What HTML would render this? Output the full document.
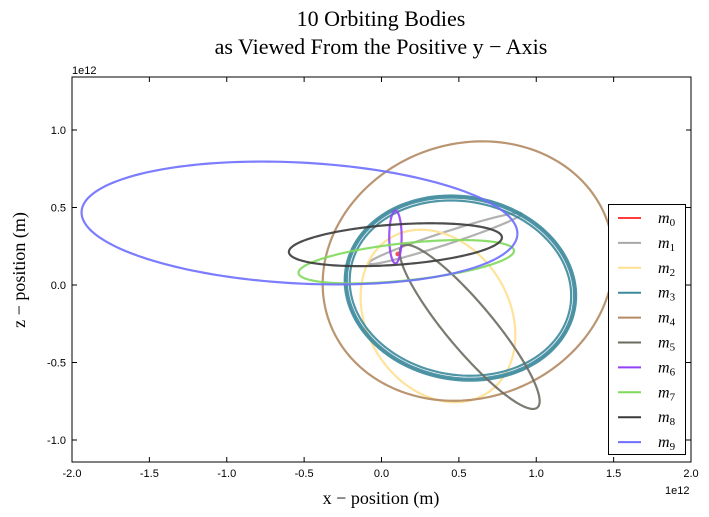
<!DOCTYPE html>
<html><head><meta charset="utf-8">
<style>
body{margin:0;background:#fff;}
svg{display:block;font-family:"Liberation Sans",sans-serif;}
.serif{font-family:"Liberation Serif",serif;}
</style></head>
<body>
<svg id="chart" width="709" height="517" viewBox="0 0 709 517" xmlns="http://www.w3.org/2000/svg">
<rect width="709" height="517" fill="#fff"/>
<text class="serif" x="381" y="26" font-size="22" text-anchor="middle">10 Orbiting Bodies</text>
<text class="serif" x="381" y="54" font-size="22" text-anchor="middle">as Viewed From the Positive y − Axis</text>
<g id="plot"></g>
<text class="serif" x="381" y="504" font-size="18" text-anchor="middle">x − position (m)</text>
<text class="serif" transform="translate(25,270) rotate(-90)" font-size="18" text-anchor="middle">z − position (m)</text>
<text x="665" y="494" font-size="11">1e12</text>
<text x="72" y="74" font-size="11">1e12</text>
</svg>
<script>
const names=["m0","m1","m2","m3","m4","m5","m6","m7","m8","m9"];
const colors=["#ff3b3b","#a8a8a8","#ffe08f","#3d8a9c","#b38a63","#6b6b62","#9342f5","#7fd95c","#3a3a3a","#6e6eff"];
const centerX=[0.105,0.41,0.365,0.51,0.56,0.57,0.09,0.16,0.09,-0.53];
const centerZ=[0.20,0.30,-0.20,-0.02,0.09,-0.27,0.31,0.15,0.26,0.40];
const semiA=[0.008,0.52,0.59,0.74,0.955,0.68,0.17,0.70,0.69,1.41];
const semiB=[0.008,0.04,0.46,0.58,0.82,0.15,0.04,0.12,0.13,0.39];
const angleDeg=[0,18,122,-10,20,-50,90,6,4,-3];
const xTicks=[-2.0,-1.5,-1.0,-0.5,0.0,0.5,1.0,1.5,2.0];
const zTicks=[-1.0,-0.5,0.0,0.5,1.0];
const L=72,R=691,T=77,B=462;
const xMin=-2,xMax=2,zMin=-1.142,zMax=1.342;
function X(v){return L+(v-xMin)/(xMax-xMin)*(R-L);}
function Y(v){return B-(v-zMin)/(zMax-zMin)*(B-T);}
const NS="http://www.w3.org/2000/svg";
const plot=document.getElementById('plot');
function mk(tag,attrs,parent){const e=document.createElementNS(NS,tag);for(const k in attrs)e.setAttribute(k,attrs[k]);(parent||plot).appendChild(e);return e;}
const clip=mk('clipPath',{id:'pc'});mk('rect',{x:L,y:T,width:R-L,height:B-T},clip);
const g=mk('g',{'clip-path':'url(#pc)'});
function ellipsePath(cx,cz,a,b,ang,da){
  const th=ang*Math.PI/180;let d='';
  for(let i=0;i<=200;i++){const t=i/200*2*Math.PI;
    const ex=(a+da)*Math.cos(t),ez=(b+da)*Math.sin(t);
    const x=cx+ex*Math.cos(th)-ez*Math.sin(th),z=cz+ex*Math.sin(th)+ez*Math.cos(th);
    d+=(i?'L':'M')+X(x).toFixed(2)+','+Y(z).toFixed(2);}
  return d;
}
for(let i=0;i<names.length;i++){
  const offs=(i===3)?[-0.02,0,0.012]:[0];
  offs.forEach(o=>{
    const p=mk('path',{d:ellipsePath(centerX[i],centerZ[i],semiA[i],semiB[i],angleDeg[i],o),fill:'none',stroke:colors[i],'stroke-width':(i===3&&o===0)?2.6:2.2,'stroke-opacity':0.9},g);
    
    
  });
}
const frame=mk('rect',{x:L,y:T,width:R-L,height:B-T,fill:'none',stroke:'#000','stroke-width':1});


xTicks.forEach(v=>{const x=X(v);
  mk('line',{x1:x,y1:B,x2:x,y2:B-5,stroke:'#000'});mk('line',{x1:x,y1:T,x2:x,y2:T+5,stroke:'#000'});
  const t=mk('text',{x:x,y:B+15,'font-size':11,'text-anchor':'middle'});t.textContent=v.toFixed(1);
  
  
});
zTicks.forEach(v=>{const y=Y(v);
  mk('line',{x1:L,y1:y,x2:L+5,y2:y,stroke:'#000'});mk('line',{x1:R,y1:y,x2:R-5,y2:y,stroke:'#000'});
  const t=mk('text',{x:L-6,y:y+4,'font-size':11,'text-anchor':'end'});t.textContent=v.toFixed(1);
  
  
});
const lg=mk('g',{});


mk('rect',{x:608.5,y:204.5,width:77,height:250,fill:'#fff',stroke:'#000','stroke-width':1},lg);
for(let i=0;i<names.length;i++){
  const y=218+i*24.9;
  const ent=mk('g',{},lg);
  
  
  mk('line',{x1:618,y1:y,x2:641,y2:y,stroke:colors[i],'stroke-width':2},ent);
  const t=mk('text',{x:658,y:y+5,'font-size':16,'font-style':'italic','font-family':'Liberation Serif,serif'},ent);
  t.textContent='m';
  const s=mk('tspan',{'font-size':11,dy:3,'font-style':'normal'},t);s.textContent=String(i);
}
</script>
</body></html>
